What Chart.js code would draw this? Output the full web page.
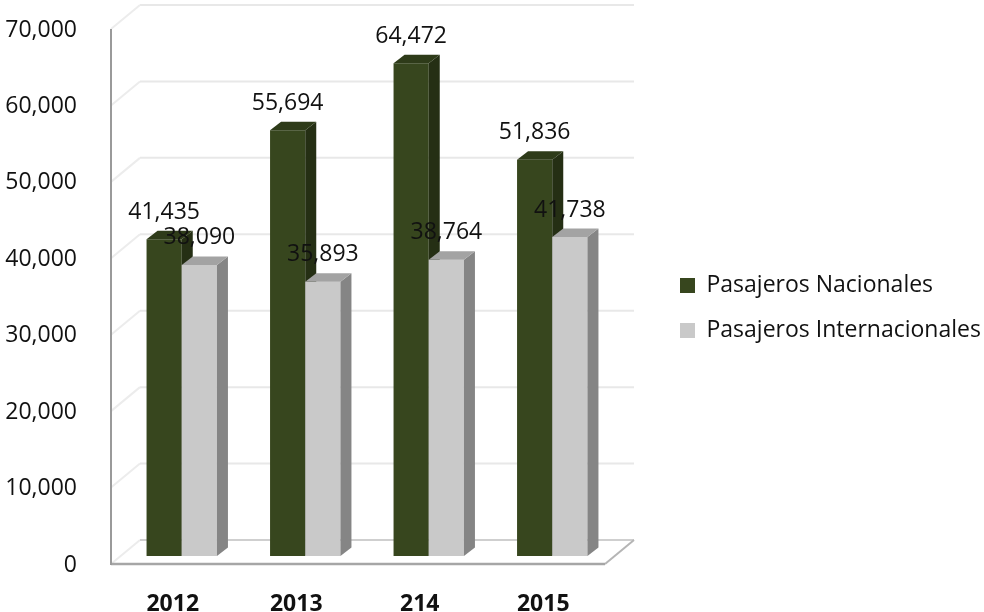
<!DOCTYPE html>
<html>
<head>
<meta charset="utf-8">
<script src="https://cdn.jsdelivr.net/npm/chart.js@4.4.1/dist/chart.umd.min.js"></script>
<style>
  html, body { margin: 0; padding: 0; background: #fff; }
  #wrap { width: 984px; height: 612px; position: relative; }
</style>
</head>
<body>
<div id="wrap"><canvas id="myChart"></canvas></div>
<script>
const years = ["2012", "2013", "214", "2015"];
const nacionales = [41435, 55694, 64472, 51836];
const internacionales = [38090, 35893, 38764, 41738];
const yTicks = [0, 10000, 20000, 30000, 40000, 50000, 60000, 70000];

// 3d offsets (front wall, back wall, bar depth)
const FRONT = { x: -9, y: 8 };
const BACK = { x: 20, y: -16 };
const BAR = { x: 11, y: -8.5 };

Chart.defaults.font.family = "'Open Sans', sans-serif";
Chart.defaults.color = "#111";

function line(ctx, x1, y1, x2, y2, color, w) {
    ctx.beginPath();
    ctx.moveTo(x1, y1);
    ctx.lineTo(x2, y2);
    ctx.strokeStyle = color;
    ctx.lineWidth = w;
    ctx.stroke();
}

function poly(ctx, pts, color) {
    ctx.beginPath();
    ctx.moveTo(pts[0][0], pts[0][1]);
    for (let i = 1; i < pts.length; i++) ctx.lineTo(pts[i][0], pts[i][1]);
    ctx.closePath();
    ctx.fillStyle = color;
    ctx.fill();
}

const faces = [
    { front: "#37461e", side: "#252f14", top: "#2e3b19" },
    { front: "#c9c9c9", side: "#858585", top: "#a3a3a3" },
];

const fake3d = {
    id: "fake3d",
    beforeDatasetsDraw(chart) {
        const ctx = chart.ctx;
        const y = chart.scales.y;
        const L = chart.chartArea.left, R = chart.chartArea.right;
        ctx.save();
        ctx.lineCap = "butt";
        // back wall + left wall grid
        yTicks.forEach((v) => {
            const py = y.getPixelForValue(v);
            if (v > 0) {
                line(ctx, L + BACK.x, py + BACK.y, R + BACK.x, py + BACK.y, "#e8e8e8", 2);
            }
            line(ctx, L + FRONT.x, py + FRONT.y, L + BACK.x, py + BACK.y, "#ececec", 2);
        });
        // floor
        const p0 = y.getPixelForValue(0);
        line(ctx, L + BACK.x, p0 + BACK.y, R + BACK.x, p0 + BACK.y, "#cfcfcf", 2);
        line(ctx, R + FRONT.x, p0 + FRONT.y, R + BACK.x, p0 + BACK.y, "#b5b5b5", 2);
        line(ctx, L + FRONT.x, p0 + FRONT.y, R + FRONT.x, p0 + FRONT.y, "#a6a6a6", 2.5);
        // front vertical axis
        const pTop = y.getPixelForValue(70000);
        line(ctx, L + FRONT.x, pTop + FRONT.y, L + FRONT.x, p0 + FRONT.y + 1, "#9a9a9a", 2);

        // bars, category by category so the faces overlap right
        const metas = [chart.getDatasetMeta(0), chart.getDatasetMeta(1)];
        for (let i = 0; i < years.length; i++) {
            metas.forEach((meta, d) => {
                const el = meta.data[i];
                const w = el.width;
                const x0 = el.x - w / 2, x1 = el.x + w / 2;
                const top = el.y, base = el.base;
                const f = faces[d];
                poly(ctx, [[x0, top], [x1, top], [x1, base], [x0, base]], f.front);
                poly(ctx, [[x1, top], [x1 + BAR.x, top + BAR.y], [x1 + BAR.x, base + BAR.y], [x1, base]], f.side);
                poly(ctx, [[x0, top], [x1, top], [x1 + BAR.x, top + BAR.y], [x0 + BAR.x, top + BAR.y]], f.top);
            });
        }
        // value labels
        ctx.font = "23px 'Open Sans', sans-serif";
        ctx.fillStyle = "#111";
        ctx.textAlign = "center";
        ctx.textBaseline = "middle";
        for (let i = 0; i < years.length; i++) {
            metas.forEach((meta, d) => {
                const el = meta.data[i];
                const val = chart.data.datasets[d].data[i];
                ctx.fillText(val.toLocaleString("en-US"), el.x, el.y - 27);
            });
        }
        ctx.restore();
        return false; // everything drawn above
    },
};

const ctx = document.getElementById("myChart");
const myChart = new Chart(ctx, {
    type: "bar",
    data: {
        labels: years,
        datasets: [
            {
                label: "Pasajeros Nacionales",
                data: nacionales,
                backgroundColor: "#37461e",
                borderWidth: 0,
                barPercentage: 1,
                categoryPercentage: 0.57,
            },
            {
                label: "Pasajeros Internacionales",
                data: internacionales,
                backgroundColor: "#c9c9c9",
                borderWidth: 0,
                barPercentage: 1,
                categoryPercentage: 0.57,
            },
        ],
    },
    options: {
        responsive: true,
        maintainAspectRatio: false,
        animation: false,
        layout: { padding: { top: 4, left: 0, right: 0, bottom: 0 } },
        plugins: {
            legend: {
                display: true,
                position: "right",
                maxWidth: 326,
                labels: {
                    boxWidth: 15,
                    boxHeight: 15,
                    padding: 22,
                    color: "#111",
                    font: { size: 23 },
                },
            },
            tooltip: { enabled: false },
        },
        scales: {
            x: {
                grid: { display: false },
                border: { display: false },
                ticks: {
                    labelOffset: -9,
                    padding: 27,
                    maxRotation: 0,
                    color: "#111",
                    font: { size: 23, weight: "bold" },
                },
                afterFit(scale) { scale.height = 56; },
            },
            y: {
                min: 0,
                max: 70000,
                grid: { display: false },
                border: { display: false },
                ticks: {
                    stepSize: 10000,
                    labelOffset: 9,
                    padding: 35,
                    color: "#111",
                    font: { size: 23 },
                    callback: (v) => v.toLocaleString("en-US"),
                },
                afterFit(scale) {
                    scale.width = 120;
                    scale.paddingTop = 21;
                    scale.paddingBottom = 0;
                },
            },
            y2: {
                position: "right",
                display: true,
                grid: { display: false },
                border: { display: false },
                ticks: { display: false },
                afterFit(scale) {
                    scale.width = 44;
                    scale.paddingTop = 0;
                    scale.paddingBottom = 0;
                },
            },
        },
    },
    plugins: [fake3d],
});
</script>
</body>
</html>
